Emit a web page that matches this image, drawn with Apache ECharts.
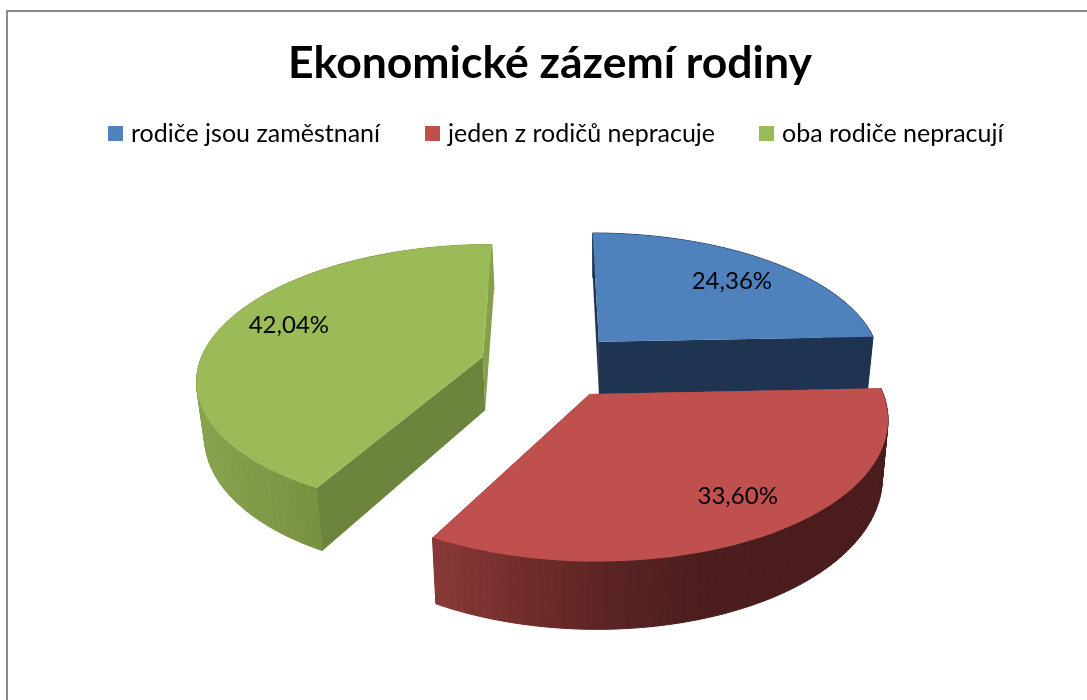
<!DOCTYPE html>
<html>
<head>
<meta charset="utf-8">
<style>
  html, body { margin: 0; padding: 0; background: #fff; }
  #chart { width: 1087px; height: 700px; }
</style>
<script src="https://cdn.jsdelivr.net/npm/echarts@6/dist/echarts.min.js"></script>
</head>
<body>
<div id="chart"></div>
<script>
const titleText = 'Ekonomické zázemí rodiny';
const categories = ['rodiče jsou zaměstnaní', 'jeden z rodičů nepracuje', 'oba rodiče nepracují'];
const values = [24.36, 33.6, 42.04];
const topColors = ['#4f81bd', '#c0504d', '#9bbb59'];
const cutColors = ['#1f3450', '#4a1d1c', '#6d843c'];
const wallColors = [
  ['#1f3450', '#1f3450'],
  ['#8a3a38', '#722d2b', '#5a2423', '#4b1e1d', '#4a1d1c', '#4a1d1c'],
  ['#87a34e', '#7e9947', '#748e40', '#84a04b', '#84a04b']
];
const labelShift = [[133, -61], [148, 102], [-194, -32]];
const legendLeft = [108, 425, 759];

// fake perspective of the tilted pie, fitted by eye on the picture
const view = { cx: 551, cy: 365, rx: 284, ry: 132, tilt: 0.153, explode: 0.25 };
const total = values.reduce((a, b) => a + b, 0);

function project(u, v) {
  const w = 1 - view.tilt * v;
  return [view.cx + (view.rx * u) / w, view.cy + (view.ry * v) / w];
}

function lower(p) {
  return [600 + (p[0] - 600) * 0.98, p[1] * 1.071 + 28];
}

function renderSlice(index) {
  return function (params, api) {
    const value = api.value(0);
    const before = values.slice(0, index).reduce((a, b) => a + b, 0);
    const a0 = (before / total) * Math.PI * 2;
    const a1 = ((before + value) / total) * Math.PI * 2;
    const mid = (a0 + a1) / 2;
    const eu = view.explode * Math.sin(mid);
    const ev = -view.explode * Math.cos(mid);

    const arc = [];
    for (let i = 0; i <= 90; i++) {
      const a = a0 + ((a1 - a0) * i) / 90;
      arc.push(project(eu + Math.sin(a), ev - Math.cos(a)));
    }
    const apex = project(eu, ev);
    const first = arc[0];
    const last = arc[arc.length - 1];
    const xs = arc.map(p => p[0]);
    const xMin = Math.min(...xs);
    const xMax = Math.max(...xs);
    const poly = (points, fill, seam) => ({
      type: 'polygon',
      shape: { points },
      style: seam ? { fill, stroke: fill, lineWidth: 1 } : { fill }
    });

    // outer wall as vertical strips, the shading is banded like the original
    const strips = [];
    for (let i = 0; i < arc.length - 1; i++) {
      const t = (arc[i][0] - xMin) / (xMax - xMin);
      const color = echarts.color.lerp(t, wallColors[index]);
      strips.push(poly([arc[i], arc[i + 1], lower(arc[i + 1]), lower(arc[i])], color, true));
    }

    return {
      type: 'group',
      children: [
        poly([apex, last, lower(last), lower(apex)], index === 2 ? wallColors[2][4] : cutColors[index]),
        ...strips,
        poly([apex, first, lower(first), lower(apex)], cutColors[index]),
        poly([apex].concat(arc), topColors[index]),
        {
          type: 'text',
          style: {
            x: apex[0] + labelShift[index][0],
            y: apex[1] + labelShift[index][1],
            text: value.toFixed(2).replace('.', ',') + '%',
            fill: '#000',
            font: '24px Lato',
            textAlign: 'center',
            textVerticalAlign: 'middle'
          }
        }
      ]
    };
  };
}

// red lies over the blue wall
const drawOrder = [1, 3, 2];

const chart = echarts.init(document.getElementById('chart'));
chart.setOption({
  animation: false,
  backgroundColor: '#fff',
  title: {
    text: titleText,
    left: 288,
    top: 41,
    padding: 0,
    textStyle: { fontFamily: 'Lato', fontWeight: 'bold', fontSize: 44.5, color: '#000' }
  },
  legend: categories.map((name, i) => ({
    left: legendLeft[i],
    top: 121,
    padding: 0,
    itemWidth: 15,
    itemHeight: 15,
    icon: 'rect',
    selectedMode: false,
    data: [name],
    textStyle: { fontFamily: 'Lato', fontSize: 25, color: '#000', padding: [0, 0, 0, 3] }
  })),
  graphic: [
    {
      type: 'polyline',
      silent: true,
      shape: { points: [[7, 700], [7, 11], [1087, 11]] },
      style: { stroke: '#8c8c8c', lineWidth: 2, fill: null }
    }
  ],
  series: categories.map((name, i) => ({
    type: 'custom',
    name,
    coordinateSystem: 'none',
    z: drawOrder[i],
    itemStyle: { color: topColors[i] },
    data: [[values[i]]],
    renderItem: renderSlice(i)
  }))
});
</script>
</body>
</html>
